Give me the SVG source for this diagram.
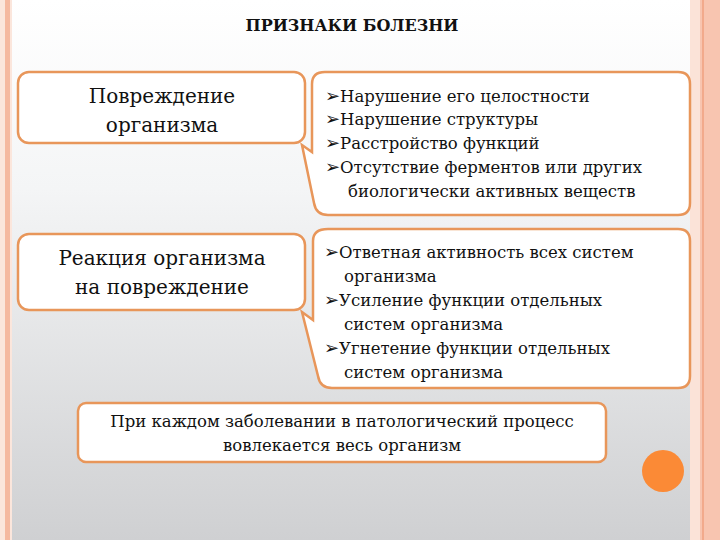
<svg xmlns="http://www.w3.org/2000/svg" width="720" height="540" viewBox="0 0 720 540">
<defs>
<linearGradient id="bg" x1="0" y1="0" x2="0" y2="1"><stop offset="0" stop-color="#ffffff"/><stop offset="0.35" stop-color="#f4f5f6"/><stop offset="1" stop-color="#cfd0d2"/></linearGradient>
<style>
.box{fill:#fff;stroke:#e8965a;stroke-width:2.5}
.t{fill:#111}
.l{font-size:20px;text-anchor:middle}
.r{font-size:16.5px}
.b{font-family:'DejaVu Sans',sans-serif;font-size:18px}
</style>
</defs>
<rect width="720" height="540" fill="url(#bg)"/>
<rect x="0" y="0" width="12" height="540" fill="#fbe6dc"/>
<rect x="5" y="0" width="5" height="540" fill="#f5b9a0"/>
<rect x="690" y="0" width="30" height="540" fill="#fbe3d8"/>
<rect x="700" y="0" width="20" height="540" fill="#f8c5b0"/>
<line x1="703" y1="0" x2="703" y2="540" stroke="#f0a080" stroke-width="1.5"/>
<g font-family="'DejaVu Serif', 'Liberation Serif', serif">
<text class="t" x="352" y="31" font-size="16" font-weight="bold" text-anchor="middle">ПРИЗНАКИ БОЛЕЗНИ</text>
<g id="n1"><rect class="box" x="18" y="72" width="287" height="71" rx="11"/>
<text class="t l" x="162" y="103">Повреждение</text><text class="t l" x="162" y="132">организма</text></g>
<g id="n2"><path class="box" d="M325,72 H678 Q690,72 690,84 V203 Q690,215 678,215 H328 Q316,215 314,203 L302,145 L312,152 V84 Q312,72 325,72 Z"/>
<text class="t r" x="325" y="102"><tspan class="b">➢</tspan>Нарушение его целостности</text>
<text class="t r" x="325" y="125"><tspan class="b">➢</tspan>Нарушение структуры</text>
<text class="t r" x="325" y="149"><tspan class="b">➢</tspan>Расстройство функций</text>
<text class="t r" x="325" y="173"><tspan class="b">➢</tspan>Отсутствие ферментов или других</text>
<text class="t r" x="348" y="197">биологически активных веществ</text></g>
<g id="n3"><rect class="box" x="18" y="234" width="287" height="76" rx="11"/>
<text class="t l" x="162" y="265">Реакция организма</text><text class="t l" x="162" y="294">на повреждение</text></g>
<g id="n4"><path class="box" d="M328,229 H678 Q690,229 690,241 V376 Q690,388 678,388 H332 Q320,388 318,376 L302,312 L313,320 V241 Q313,229 328,229 Z"/>
<text class="t r" x="324" y="258"><tspan class="b">➢</tspan>Ответная активность всех систем</text>
<text class="t r" x="344" y="282">организма</text>
<text class="t r" x="324" y="306"><tspan class="b">➢</tspan>Усиление функции отдельных</text>
<text class="t r" x="344" y="330">систем организма</text>
<text class="t r" x="324" y="354"><tspan class="b">➢</tspan>Угнетение функции отдельных</text>
<text class="t r" x="344" y="378">систем организма</text></g>
<g id="n5"><rect class="box" x="78" y="403" width="528" height="59" rx="8"/>
<text class="t r" x="342" y="427" text-anchor="middle">При каждом заболевании в патологический процесс</text>
<text class="t r" x="342" y="451" text-anchor="middle">вовлекается весь организм</text></g>
</g>
<circle cx="663" cy="471" r="21" fill="#fb8a36"/>
<g id="connectors"/>
</svg>
